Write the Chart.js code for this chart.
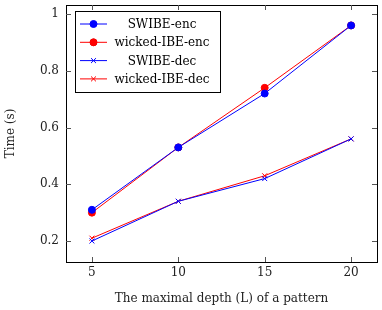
<!DOCTYPE html>
<html><head><meta charset="utf-8">
<script src="https://cdn.jsdelivr.net/npm/chart.js@4/dist/chart.umd.min.js"></script>
<style>html,body{margin:0;padding:0;background:#fff}#w{width:382px;height:310px}</style>
</head><body><div id="w"><canvas id="c"></canvas></div>
<script>
const depths = [5, 10, 15, 20];
const swibeEnc = [0.31, 0.53, 0.72, 0.96];
const wickedEnc = [0.30, 0.53, 0.74, 0.96];
const swibeDec = [0.20, 0.34, 0.42, 0.56];
const wickedDec = [0.21, 0.34, 0.43, 0.56];
const xTicks = [5, 10, 15, 20];
const yTicks = [0.2, 0.4, 0.6, 0.8, 1];
const seriesNames = ['SWIBE-enc', 'wicked-IBE-enc', 'SWIBE-dec', 'wicked-IBE-dec'];

const FONT = '"DejaVu Serif", "Liberation Serif", serif';
const BLUE = '#0000ff', RED = '#ff0000';

function pts(arr){ return depths.map((d,i)=>({x:d,y:arr[i]})); }

const styles = [
  {c:BLUE, s:'circle', r:3.5},
  {c:RED, s:'circle', r:3.5},
  {c:BLUE, s:'crossRot', r:3.5},
  {c:RED, s:'crossRot', r:3.5}
];
const data = [swibeEnc, wickedEnc, swibeDec, wickedDec];

const datasets = data.map((arr,i)=>({
  label: seriesNames[i],
  data: pts(arr),
  borderColor: styles[i].c,
  backgroundColor: styles[i].c,
  borderWidth: 1,
  pointStyle: styles[i].s,
  pointRadius: styles[i].r,
  pointBorderWidth: 1,
  tension: 0
}));

const framePlugin = {
  id:'frame',
  afterDraw(chart){
    const {ctx, chartArea:a, scales:{x,y}} = chart;
    ctx.save();
    ctx.strokeStyle = '#000';
    ctx.lineWidth = 1;
    ctx.strokeRect(Math.round(a.left)+0.5, Math.round(a.top)+0.5, Math.round(a.right-a.left), Math.round(a.bottom-a.top));
    ctx.strokeStyle = '#555';
    ctx.beginPath();
    xTicks.forEach(v=>{
      const px = Math.round(x.getPixelForValue(v))+0.5;
      ctx.moveTo(px, a.bottom); ctx.lineTo(px, a.bottom-5);
      ctx.moveTo(px, a.top); ctx.lineTo(px, a.top+5);
    });
    yTicks.forEach(v=>{
      const py = Math.round(y.getPixelForValue(v))+0.5;
      ctx.moveTo(a.left, py); ctx.lineTo(a.left+5, py);
      ctx.moveTo(a.right, py); ctx.lineTo(a.right-5, py);
    });
    ctx.stroke();
    // legend
    const lx = 75.5, ly = 11.5, lw = 145, lh = 81;
    ctx.fillStyle = '#fff';
    ctx.fillRect(lx, ly, lw, lh);
    ctx.strokeStyle = '#000';
    ctx.strokeRect(lx, ly, lw, lh);
    ctx.font = '12px ' + FONT;
    ctx.textAlign = 'center';
    ctx.textBaseline = 'middle';
    seriesNames.forEach((n,i)=>{
      const yy = 24 + i*18.3;
      ctx.strokeStyle = styles[i].c;
      ctx.lineWidth = 1;
      ctx.beginPath(); ctx.moveTo(80, yy); ctx.lineTo(107, yy); ctx.stroke();
      Chart.helpers.drawPoint(ctx, {pointStyle: styles[i].s, radius: styles[i].r, borderWidth: 1}, 93.5, yy);
      ctx.fillStyle = styles[i].c;
      if (styles[i].s === 'circle') { ctx.beginPath(); ctx.arc(93.5, yy, styles[i].r, 0, Math.PI*2); ctx.fill(); }
      ctx.fillStyle = '#000';
      ctx.fillText(n, 162, yy+1);
    });
    ctx.restore();
  }
};

new Chart(document.getElementById('c'), {
  type: 'line',
  data: { datasets },
  options: {
    responsive: true,
    maintainAspectRatio: false,
    animation: false,
    layout: { padding: { top: 4, right: 5, left: 0, bottom: 0 } },
    plugins: { legend: { display: false }, tooltip: { enabled: false } },
    scales: {
      x: {
        type: 'linear', min: 3.5, max: 21.5,
        afterBuildTicks(s){ s.ticks = xTicks.map(v=>({value:v})); },
        afterFit(s){ s.height = 48; s.paddingLeft = 0; s.paddingRight = 0; },
        grid: { display: false, drawTicks: false },
        border: { display: false },
        ticks: { font: { family: FONT, size: 12 }, color: '#222', padding: 4 },
        title: { display: true, text: 'The maximal depth (L) of a pattern', font: { family: FONT, size: 12 }, color: '#222', padding: { top: 7 } }
      },
      y: {
        type: 'linear', min: 0.126, max: 1.032,
        afterBuildTicks(s){ s.ticks = yTicks.map(v=>({value:v})); },
        afterFit(s){ s.width = 66; s.paddingTop = 0; s.paddingBottom = 0; },
        grid: { display: false, drawTicks: false },
        border: { display: false },
        ticks: { font: { family: FONT, size: 12 }, color: '#222', padding: 7, callback: v => String(v) },
        title: { display: true, text: 'Time (s)', font: { family: FONT, size: 12 }, color: '#222', padding: { top: 4, bottom: 8 } }
      }
    }
  },
  plugins: [framePlugin]
});
</script></body></html>
